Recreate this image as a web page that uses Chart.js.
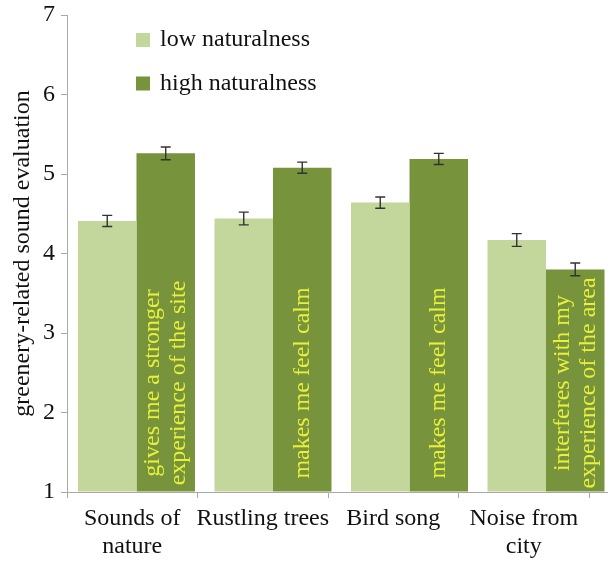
<!DOCTYPE html>
<html>
<head>
<meta charset="utf-8">
<script src="https://cdn.jsdelivr.net/npm/chart.js@4.4.1/dist/chart.umd.min.js"></script>
<style>
  html, body { margin: 0; padding: 0; background: #ffffff; }
  canvas { display: block; }
</style>
</head>
<body>
<canvas id="chart" width="608" height="561"></canvas>
<script>
// Sound categories (x axis), one entry per group, split into lines
const categories = [['Sounds of', 'nature'], ['Rustling trees'], ['Bird song'], ['Noise from', 'city']];
const seriesNames = ['low naturalness', 'high naturalness'];

// Mean greenery-related sound evaluation per category
const lowValues = [4.41, 4.44, 4.64, 4.17];
const highValues = [5.26, 5.08, 5.19, 3.80];

// Standard errors
const lowErrors = [0.07, 0.08, 0.07, 0.08];
const highErrors = [0.08, 0.07, 0.07, 0.08];

// Statements printed inside the high-naturalness bars
const highNotes = [
  ['gives me a stronger', 'experience of the site'],
  ['makes me feel calm'],
  ['makes me feel calm'],
  ['interferes with my', 'experience of the area']
];

const yTicks = [1, 2, 3, 4, 5, 6, 7];

const SERIF = "'Liberation Serif', 'Times New Roman', 'DejaVu Serif', serif";
const LOW_COLOR = '#c3d69b';
const HIGH_COLOR = '#77933c';
const AXIS_COLOR = '#a9a9a9';

const errorBars = {
  id: 'errorBars',
  afterDatasetsDraw(chart) {
    const { ctx } = chart;
    const y = chart.scales.y;
    const errs = [lowErrors, highErrors];
    ctx.save();
    ctx.strokeStyle = '#333333';
    ctx.lineWidth = 1.4;
    chart.data.datasets.forEach((ds, d) => {
      const meta = chart.getDatasetMeta(d);
      meta.data.forEach((bar, i) => {
        const v = ds.data[i].y;
        const e = errs[d][i];
        const top = y.getPixelForValue(v + e);
        const bot = y.getPixelForValue(v - e);
        const x = bar.x;
        ctx.beginPath();
        ctx.moveTo(x, top); ctx.lineTo(x, bot);
        ctx.moveTo(x - 5, top); ctx.lineTo(x + 5, top);
        ctx.moveTo(x - 5, bot); ctx.lineTo(x + 5, bot);
        ctx.stroke();
      });
    });
    ctx.restore();
  }
};

const barNotes = {
  id: 'barNotes',
  afterDatasetsDraw(chart) {
    const { ctx, chartArea } = chart;
    const meta = chart.getDatasetMeta(1);
    const cy = chartArea.bottom - 109;
    ctx.save();
    ctx.fillStyle = '#e8f03c';
    ctx.font = '24px ' + SERIF;
    ctx.textAlign = 'center';
    ctx.textBaseline = 'middle';
    meta.data.forEach((bar, i) => {
      const lines = highNotes[i];
      ctx.save();
      ctx.translate(bar.x, cy);
      ctx.rotate(-Math.PI / 2);
      lines.forEach((line, k) => {
        ctx.fillText(line, 0, (k - (lines.length - 1) / 2) * 26);
      });
      ctx.restore();
    });
    ctx.restore();
  }
};

const sideLegend = {
  id: 'sideLegend',
  afterDraw(chart) {
    const { ctx, chartArea } = chart;
    // extend the baseline to the right edge of the canvas
    ctx.save();
    ctx.strokeStyle = AXIS_COLOR;
    ctx.lineWidth = 1;
    ctx.beginPath();
    ctx.moveTo(chartArea.right, chartArea.bottom + 0.5);
    ctx.lineTo(chart.width, chartArea.bottom + 0.5);
    ctx.stroke();

    ctx.font = '24px ' + SERIF;
    ctx.textAlign = 'left';
    ctx.textBaseline = 'middle';
    chart.data.datasets.forEach((ds, d) => {
      const cy = 40 + d * 43.5;
      ctx.fillStyle = ds.backgroundColor;
      ctx.fillRect(136, cy - 7, 14, 14);
      ctx.fillStyle = '#111111';
      ctx.fillText(ds.label, 160, cy);
    });
    ctx.restore();
  }
};

const toPoints = (vals) => vals.map((v, i) => ({ x: i, y: v }));
const barClip = { left: 0, top: 0, right: 30, bottom: 0 };

new Chart(document.getElementById('chart'), {
  type: 'bar',
  data: {
    labels: categories,
    datasets: [
      { label: seriesNames[0], data: toPoints(lowValues), backgroundColor: LOW_COLOR, xAxisID: 'xb', yAxisID: 'y', borderWidth: 0, base: 1, clip: barClip },
      { label: seriesNames[1], data: toPoints(highValues), backgroundColor: HIGH_COLOR, xAxisID: 'xb', yAxisID: 'y', borderWidth: 0, base: 1, clip: barClip }
    ]
  },
  options: {
    responsive: false,
    animation: false,
    categoryPercentage: 0.857,
    barPercentage: 1.0,
    layout: { padding: { top: 15, right: 19, left: 0, bottom: 0 } },
    plugins: { legend: { display: false }, tooltip: { enabled: false } },
    scales: {
      xb: {
        type: 'linear',
        display: false,
        offset: false,
        min: -0.509,
        max: 3.315,
        ticks: { stepSize: 1, includeBounds: false }
      },
      x: {
        type: 'category',
        position: 'bottom',
        labels: categories,
        offset: true,
        border: { display: true, color: AXIS_COLOR, width: 1 },
        grid: { offset: true, drawOnChartArea: false, drawTicks: true, tickLength: 6, color: AXIS_COLOR },
        ticks: {
          autoSkip: false, maxRotation: 0, minRotation: 0, padding: 6,
          color: '#111111',
          font: { family: SERIF, size: 24, lineHeight: 1.2 }
        },
        afterFit(scale) { scale.height = 69; scale.paddingLeft = 0; scale.paddingRight = 0; }
      },
      y: {
        type: 'linear',
        min: 1,
        max: 7,
        border: { display: true, color: AXIS_COLOR, width: 1 },
        grid: { drawOnChartArea: false, drawTicks: true, tickLength: 6, color: AXIS_COLOR },
        afterBuildTicks(scale) { scale.ticks = yTicks.map(v => ({ value: v })); },
        ticks: {
          padding: 6,
          color: '#111111',
          font: { family: SERIF, size: 24 }
        },
        title: {
          display: true,
          text: 'greenery-related sound evaluation',
          color: '#111111',
          font: { family: SERIF, size: 24, lineHeight: 1.2 },
          padding: { top: 8, bottom: 0 }
        },
        afterFit(scale) { scale.width = 67; scale.paddingTop = 0; scale.paddingBottom = 0; }
      }
    }
  },
  plugins: [errorBars, barNotes, sideLegend]
});
</script>
</body>
</html>
